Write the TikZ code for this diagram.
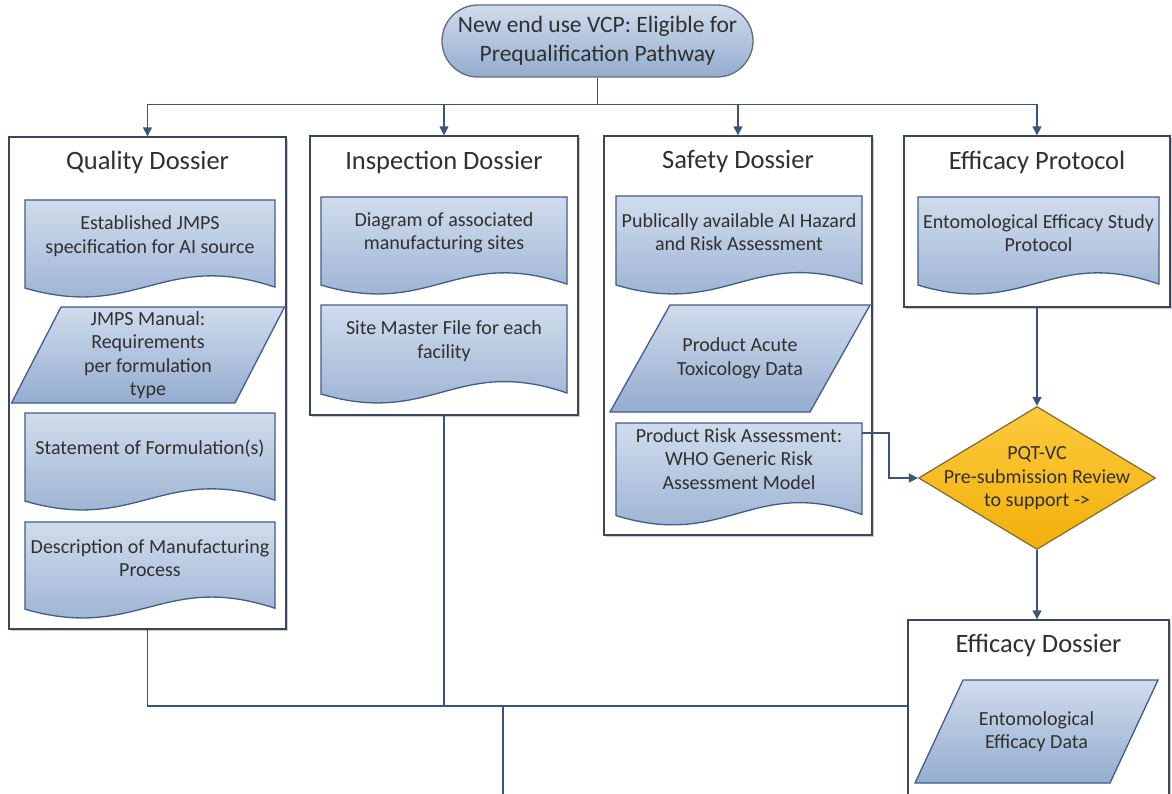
\documentclass[tikz,border=0pt]{standalone}
\usepackage{fontspec}
\setmainfont{Carlito}
\usepackage{tikz}
\usetikzlibrary{shapes.geometric,arrows.meta,shadows}
\usepackage{xcolor}
\definecolor{inkgrey}{RGB}{48,48,48}
\definecolor{linkblue}{RGB}{58,84,126}
\definecolor{docedge}{RGB}{64,94,138}
\definecolor{doctop}{RGB}{208,220,236}
\definecolor{docbottom}{RGB}{148,172,207}
\definecolor{boxedge}{RGB}{58,70,90}
\definecolor{gold}{RGB}{242,176,10}
\definecolor{goldtop}{RGB}{252,202,60}
\definecolor{goldedge}{RGB}{125,106,48}

\tikzset{
  container/.style={rectangle, draw=boxedge, line width=1.4pt, fill=white, inner sep=0pt,
    drop shadow={shadow xshift=2pt, shadow yshift=-2pt, fill=black, opacity=0.2}},
  title/.style={text=inkgrey, font=\fontsize{26.5}{30}\selectfont},
  doctext/.style={text=inkgrey, font=\fontsize{20}{23.5}\selectfont, align=center, inner sep=0pt},
  docfill/.style={draw=docedge, line width=1.3pt, top color=doctop, bottom color=docbottom},
  conn/.style={draw=linkblue, line width=1.5pt},
  arr/.style={conn, -{Triangle[length=9pt,width=9pt]}}
}

% document page: name, left, top, right, height, text
\newcommand{\docpage}[6]{%
  \draw[docfill] (#2,#3) -- (#4,#3) -- (#4,{#3+0.88*#5})
    .. controls ({#2+0.55*(#4-#2)},{#3+0.5*#5}) and ({#2+0.45*(#4-#2)},{#3+1.22*#5}) .. (#2,{#3+0.89*#5}) -- cycle;
  \node[doctext] (#1) at ({(#2+#4)/2},{#3+36}) {#6};
}
% data block: name, bottom left, bottom right, slant, top, bottom, text
\newcommand{\datapage}[7]{%
  \draw[docfill] (#2,#6) -- (#3,#6) -- ({#3+#4},#5) -- ({#2+#4},#5) -- cycle;
  \node[doctext] (#1) at ({(#2+#3+#4)/2},{(#5+#6)/2}) {#7};
}

\begin{document}
\begin{tikzpicture}[x=1pt,y=-1pt]
  \useasboundingbox (0,0) rectangle (1172,794);

  % start
  \node[draw=boxedge!80, line width=1.3pt, rounded corners=36pt, minimum width=311pt, minimum height=72pt,
    top color=doctop, bottom color=docbottom, inner sep=0pt, align=center, text=inkgrey,
    font=\fontsize{23.5}{29}\selectfont] (start) at (597.5,41) {New end use VCP: Eligible for\\Prequalification Pathway};

  % the four dossiers
  \node[container, minimum width=277pt, minimum height=492pt] (quality) at (147.5,383) {};
  \node[container, minimum width=268pt, minimum height=279pt] (inspection) at (444,275.5) {};
  \node[container, minimum width=268pt, minimum height=399pt] (safety) at (738,335.5) {};
  \node[container, minimum width=266pt, minimum height=171pt] (protocol) at (1037,221.5) {};
  \node[container, minimum width=261pt, minimum height=180pt] (dossier) at (1038.5,710) {};

  \node[title] (qualitytitle) at (147.5,162) {Quality Dossier};
  \node[title] (inspectiontitle) at (444,162) {Inspection Dossier};
  \node[title] (safetytitle) at (738,162) {Safety Dossier};
  \node[title] (protocoltitle) at (1037,162) {Efficacy Protocol};
  \node[title] (dossiertitle) at (1038.5,645) {Efficacy Dossier};

  \docpage{jmpsspec}{25}{200}{275}{99}{Established JMPS\\specification for AI source}
  \datapage{jmpsmanual}{11.5}{235}{49.5}{307}{403}{JMPS Manual:\\Requirements\\per formulation\\type}
  \docpage{formulation}{25}{413}{275}{99}{Statement of Formulation(s)}
  \docpage{process}{25}{522}{275}{98}{Description of Manufacturing\\Process}

  \docpage{sitemap}{321}{197}{567}{99}{Diagram of associated\\manufacturing sites}
  \docpage{sitemaster}{321}{305}{567}{100}{Site Master File for each\\facility}

  \docpage{hazard}{616}{196}{862}{100}{Publically available AI Hazard\\and Risk Assessment}
  \datapage{acutetox}{610}{810}{60}{305}{412}{Product Acute\\Toxicology Data}
  \docpage{riskmodel}{616}{423}{862}{104}{Product Risk Assessment:\\WHO Generic Risk\\Assessment Model}

  \docpage{studyprotocol}{918}{197}{1159}{99}{Entomological Efficacy Study\\Protocol}
  \datapage{efficacydata}{915}{1110}{48}{680}{783}{Entomological\\Efficacy Data}

  % review
  \node[diamond, draw=goldedge, line width=1.2pt, top color=goldtop, bottom color=gold,
    minimum width=237pt, minimum height=143pt, inner sep=0pt] (review) at (1037,478) {};
  \node[doctext] (reviewtext) at (1037,478.5) {PQT-VC\\Pre-submission Review\\to support ->};

  % connectors
  \path (start.south) ++(0,27) coordinate (split);
  \draw[conn] (start.south) -- (split);
  \foreach \dst in {quality,inspection,safety,protocol}
    \draw[arr] (split) -| (\dst.north);

  \coordinate (riskout) at (862,433);
  \draw[arr] (protocol.south) -- (review.north);
  \draw[arr] (riskout) -- ++(27,0) |- (review.west);
  \draw[arr] (review.south) -- (review.south |- dossier.north);

  \coordinate (join) at (503,706);
  \coordinate (out) at (503,800);
  \draw[conn] (quality.south) |- (dossier.west |- join);
  \draw[conn] (inspection.south) -- (inspection.south |- join);
  \draw[conn] (join) -- (out);
\end{tikzpicture}
\end{document}
